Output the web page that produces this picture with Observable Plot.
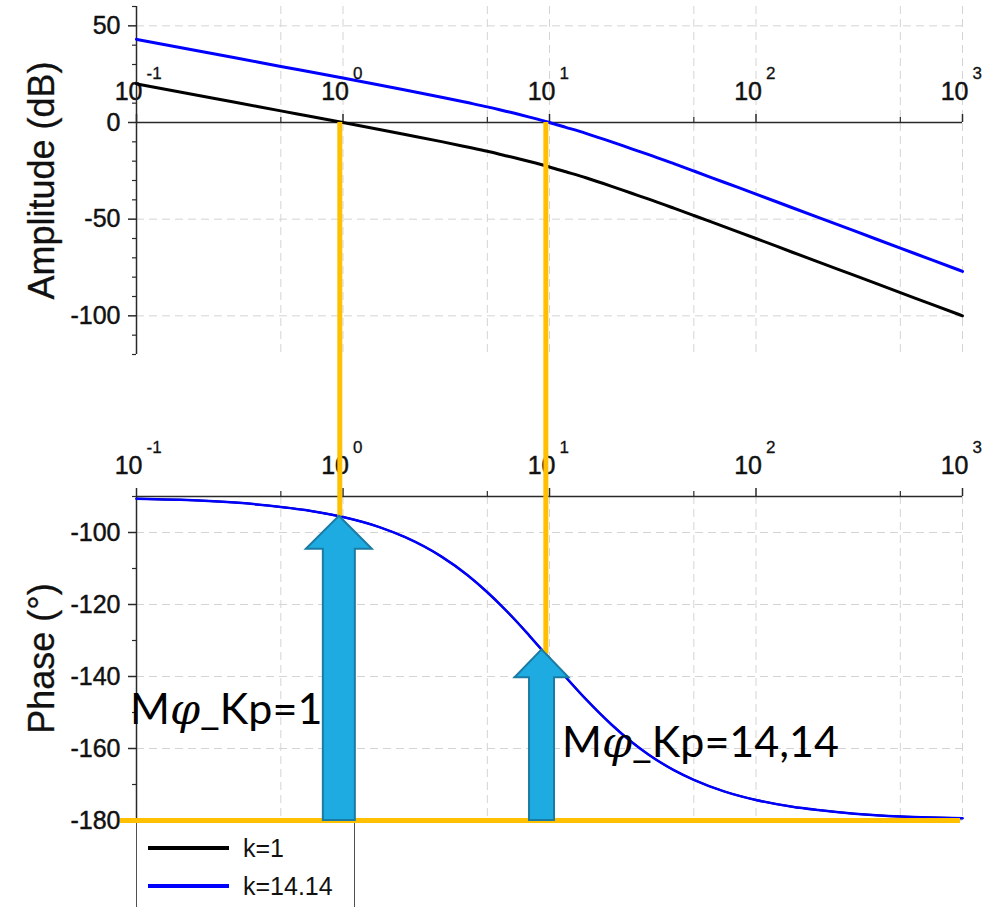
<!DOCTYPE html>
<html>
<head>
<meta charset="utf-8">
<script src="https://cdn.jsdelivr.net/npm/d3@7"></script>
<script src="https://cdn.jsdelivr.net/npm/@observablehq/plot@0.6"></script>
<style>
  body { margin: 0; background: #fff; }
  #chart { position: relative; width: 988px; height: 907px; overflow: hidden; background: #fff;
           font-family: "Liberation Sans", Arial, sans-serif; }
  #chart svg { position: absolute; left: 0; top: 0; background: none; overflow: visible; }
  #legend { position: absolute; box-sizing: border-box; background: #fff; border: 1.5px solid #505050;
            padding-top: 6px; font-size: 25px; color: #111; }
  #legend .row { display: flex; align-items: center; height: 38px; }
  #legend .swatch { display: inline-block; width: 81px; margin-left: 11px; margin-right: 14px; }
</style>
</head>
<body>
<div id="chart"></div>
<script>
// Frequency grid of the Bode plot (rad/s)
const freq = [0.1, 0.2, 0.3, 0.5, 0.7, 1, 1.5, 2, 3, 4, 5, 6, 7, 8, 10, 12, 15, 20, 25, 30, 40, 50, 70, 100, 150, 200, 300, 500, 700, 1000];
// Magnitude (dB) for gain k = 1
const ampK1 = [20.0, 14.0, 10.5, 6.0, 3.1, 0.0, -3.6, -6.2, -9.9, -12.7, -14.9, -16.9, -18.6, -20.2, -23.0, -25.5, -28.6, -33.0, -36.6, -39.5, -44.3, -48.1, -53.9, -60.0, -67.1, -72.1, -79.1, -88.0, -93.8, -100.0];
// Magnitude (dB) for gain k = 14.14
const ampK14 = [43.0, 37.0, 33.5, 29.0, 26.1, 23.0, 19.4, 16.8, 13.1, 10.3, 8.1, 6.1, 4.4, 2.8, 0.0, -2.5, -5.6, -10.0, -13.6, -16.5, -21.3, -25.1, -30.9, -37.0, -44.1, -49.1, -56.1, -65.0, -70.8, -77.0];
// Phase (deg), identical for both gains
const phaseDeg = [-90.6, -91.1, -91.7, -92.9, -94.0, -95.7, -98.5, -101.3, -106.7, -111.8, -116.6, -121.0, -125.0, -128.7, -135.0, -140.2, -146.3, -153.4, -158.2, -161.6, -166.0, -168.7, -171.9, -174.3, -176.2, -177.1, -178.1, -178.9, -179.2, -179.4];

// Series legend
const seriesNames = ["k=1", "k=14.14"];
const seriesColors = ["#000000", "#0000ff"];

// Gain-crossover guides: frequency and phase where each guide meets the phase curve
const crossFreq = [0.965, 9.6];
const crossPhase = [-95.5, -133.8];

// Phase-margin arrows (from -180° up to the phase curve) and their labels
const marginFreq = [0.96, 9.2];
const marginTip = [-95.5, -132.6];
const marginLabels = ["Mφ_Kp=1", "Mφ_Kp=14,14"];
const marginLabelPhase = [-149.3, -158.5];

// Axis ticks
const decades = [0.1, 1, 10, 100, 1000];
const decadeExp = ["-1", "0", "1", "2", "3"];
const minorX = [0.5, 5, 50, 500];
const gridX = [0.5, 1, 5, 10, 50, 100, 500, 1000];
const ampMajor = [50, 0, -50, -100];
const ampMinor = [60, 40, 30, 20, 10, -10, -20, -30, -40, -60, -70, -80, -90, -110, -120];
const phaseMajor = [-100, -120, -140, -160, -180];
const phaseMinor = [-90, -110, -130, -150, -170];

const W = 988, H = 907;
const FONT = '"Liberation Sans", Arial, sans-serif';
const LABEL_FONT = "Lato, 'Liberation Sans', sans-serif";
const AXIS = "#2a2a2a", GRID = "#d4d4d4", ORANGE = "#ffc000", INK = "#111";

const ampRows = freq.map((f, i) => ({f, k1: ampK1[i], k14: ampK14[i], ph: phaseDeg[i]}));
const crossRows = crossFreq.map((f, i) => ({f, ph: crossPhase[i]}));
const marginRows = marginFreq.map((f, i) => ({f, tip: marginTip[i], label: marginLabels[i], lp: marginLabelPhase[i]}));
const decadeRows = decades.map((d, i) => ({d, e: decadeExp[i]}));

// Slightly heavier text strokes for the axis labelling
const inked = {fill: INK, stroke: INK, strokeWidth: 0.45};

// x-axis drawn at a given y value: line, ticks pointing up, "10" + raised exponent
function decadeAxis(yv) {
  const y0 = () => yv;
  return [
    Plot.ruleY([yv], {stroke: AXIS, strokeWidth: 1.5}),
    Plot.ruleX(decades, {x: d => d, y1: y0, y2: y0, insetTop: -8, stroke: AXIS, strokeWidth: 1.5}),
    Plot.ruleX(minorX, {x: d => d, y1: y0, y2: y0, insetTop: -5, stroke: AXIS, strokeWidth: 1.2}),
    Plot.text(decadeRows, {x: "d", y: y0, text: () => "10", textAnchor: "end", lineAnchor: "bottom",
      dx: 6, dy: -23, fontSize: 25, ...inked}),
    Plot.text(decadeRows, {x: "d", y: y0, text: "e", textAnchor: "start", lineAnchor: "bottom",
      dx: 10, dy: -44, fontSize: 17, fill: INK, stroke: INK, strokeWidth: 0.3})
  ];
}

// y-axis ticks and labels on the left edge
function leftTicks(major, minor) {
  const x0 = () => 0.1;
  return [
    Plot.ruleY(major, {y: d => d, x1: x0, x2: x0, insetLeft: -8, stroke: AXIS, strokeWidth: 1.5}),
    Plot.ruleY(minor, {y: d => d, x1: x0, x2: x0, insetLeft: -4, stroke: AXIS, strokeWidth: 1.2}),
    Plot.text(major, {x: x0, y: d => d, text: d => String(d), textAnchor: "end", dx: -16,
      fontSize: 25, ...inked})
  ];
}

// Rotated axis title centred on the panel's left edge
function axisTitle(label) {
  return Plot.text([label], {frameAnchor: "left", textAnchor: "middle", lineAnchor: "middle",
    rotate: -90, dx: -94, fontSize: 36, fill: INK, stroke: INK, strokeWidth: 0.3});
}

// Block arrows positioned through the plot's scales
function blockArrows(rows, sizes) {
  return (index, scales) => {
    const g = d3.create("svg:g");
    rows.forEach((r, i) => {
      const s = sizes[i];
      const cx = scales.x(r.f), tip = scales.y(r.tip), base = scales.y(-180);
      const b = s.body / 2, h = s.head / 2, hy = tip + s.headLen;
      g.append("path")
        .attr("d", `M${cx},${tip}L${cx + h},${hy}L${cx + b},${hy}L${cx + b},${base}L${cx - b},${base}L${cx - b},${hy}L${cx - h},${hy}Z`)
        .attr("fill", "#1eabe1").attr("stroke", "#1a7ba4").attr("stroke-width", 2)
        .attr("stroke-linejoin", "miter");
    });
    return g.node();
  };
}

const chart = document.getElementById("chart");

// ---- Amplitude panel ----
const ampPlot = Plot.plot({
  width: W, height: H,
  marginTop: 6, marginBottom: 553, marginLeft: 136, marginRight: 26,
  style: {fontFamily: FONT, background: "none", overflow: "visible"},
  x: {type: "log", domain: [0.1, 1000], axis: null},
  y: {domain: [-120, 60], axis: null},
  marks: [
    Plot.ruleX(gridX, {stroke: GRID, strokeDasharray: "8,5"}),
    Plot.ruleY(ampMajor, {stroke: GRID, strokeDasharray: "8,5"}),
    axisTitle("Amplitude (dB)"),
    ...leftTicks(ampMajor, ampMinor),
    ...decadeAxis(0),
    Plot.ruleX([0.1], {stroke: AXIS, strokeWidth: 1.5}),
    Plot.line(ampRows, {x: "f", y: "k1", stroke: seriesColors[0], strokeWidth: 3, curve: "monotone-x"}),
    Plot.line(ampRows, {x: "f", y: "k14", stroke: seriesColors[1], strokeWidth: 3, curve: "monotone-x"})
  ]
});
chart.appendChild(ampPlot);

// ---- Phase panel scales (shared with the guides) ----
const phaseMarginTop = 496, phaseMarginBottom = 87;
const phaseY = Plot.scale({y: {domain: [-180, -90], range: [H - phaseMarginBottom, phaseMarginTop]}});
// Guides start at 0 dB in the amplitude panel
const guideTop = phaseY.invert(ampPlot.scale("y").apply(0));

// ---- Legend (hangs below the phase panel) ----
const legend = document.createElement("div");
legend.id = "legend";
const legendTop = phaseY.apply(-180) + 2;
Object.assign(legend.style, {left: "136px", top: legendTop + "px", width: "219px", height: "110px"});
seriesNames.forEach((name, i) => {
  const row = document.createElement("div");
  row.className = "row";
  const sw = document.createElement("span");
  sw.className = "swatch";
  sw.style.height = i === 0 ? "4px" : "3.5px";
  sw.style.background = seriesColors[i];
  const label = document.createElement("span");
  label.textContent = name;
  row.append(sw, label);
  legend.appendChild(row);
});
chart.appendChild(legend);

// ---- Phase panel ----
const phasePlot = Plot.plot({
  width: W, height: H,
  marginTop: phaseMarginTop, marginBottom: phaseMarginBottom, marginLeft: 136, marginRight: 26,
  style: {fontFamily: FONT, background: "none", overflow: "visible"},
  x: {type: "log", domain: [0.1, 1000], axis: null},
  y: {domain: [-180, -90], axis: null},
  marks: [
    Plot.ruleX(gridX, {stroke: GRID, strokeDasharray: "8,5"}),
    Plot.ruleY(phaseMajor, {stroke: GRID, strokeDasharray: "8,5"}),
    axisTitle("Phase (°)"),
    ...leftTicks(phaseMajor, phaseMinor),
    ...decadeAxis(-90),
    Plot.ruleX([0.1], {stroke: AXIS, strokeWidth: 1.5}),
    Plot.line(ampRows, {x: "f", y: "ph", stroke: seriesColors[0], strokeWidth: 2, curve: "monotone-x"}),
    Plot.line(ampRows, {x: "f", y: "ph", stroke: seriesColors[1], strokeWidth: 2.5, curve: "monotone-x"}),
    Plot.ruleY([-180], {x1: () => 0.1, x2: () => 1000, insetLeft: -16, insetRight: 2, stroke: ORANGE, strokeWidth: 5}),
    Plot.ruleX(crossRows, {x: "f", y1: "ph", y2: () => guideTop, stroke: ORANGE, strokeWidth: 5}),
    blockArrows(marginRows, [{body: 32, head: 66, headLen: 33}, {body: 25, head: 54, headLen: 28}]),
    Plot.text(marginRows.slice(0, 1), {x: "f", y: "lp", text: "label", textAnchor: "end", dx: -17,
      fontSize: 43, fontFamily: LABEL_FONT, fill: "#000"}),
    Plot.text(marginRows.slice(1), {x: "f", y: "lp", text: "label", textAnchor: "start", dx: 20,
      fontSize: 43, fontFamily: LABEL_FONT, fill: "#000"})
  ]
});
chart.appendChild(phasePlot);

// Set the φ of the margin labels in italic
d3.select(phasePlot).selectAll("text").each(function () {
  const s = this.textContent;
  const i = s.indexOf("φ");
  if (i < 0 || this.querySelector("tspan")) return;
  const t = d3.select(this).text(null);
  t.append("tspan").text(s.slice(0, i));
  t.append("tspan").attr("font-style", "italic").attr("font-family", "'DejaVu Serif', serif").text("φ");
  t.append("tspan").text(s.slice(i + 1));
});
</script>
</body>
</html>
